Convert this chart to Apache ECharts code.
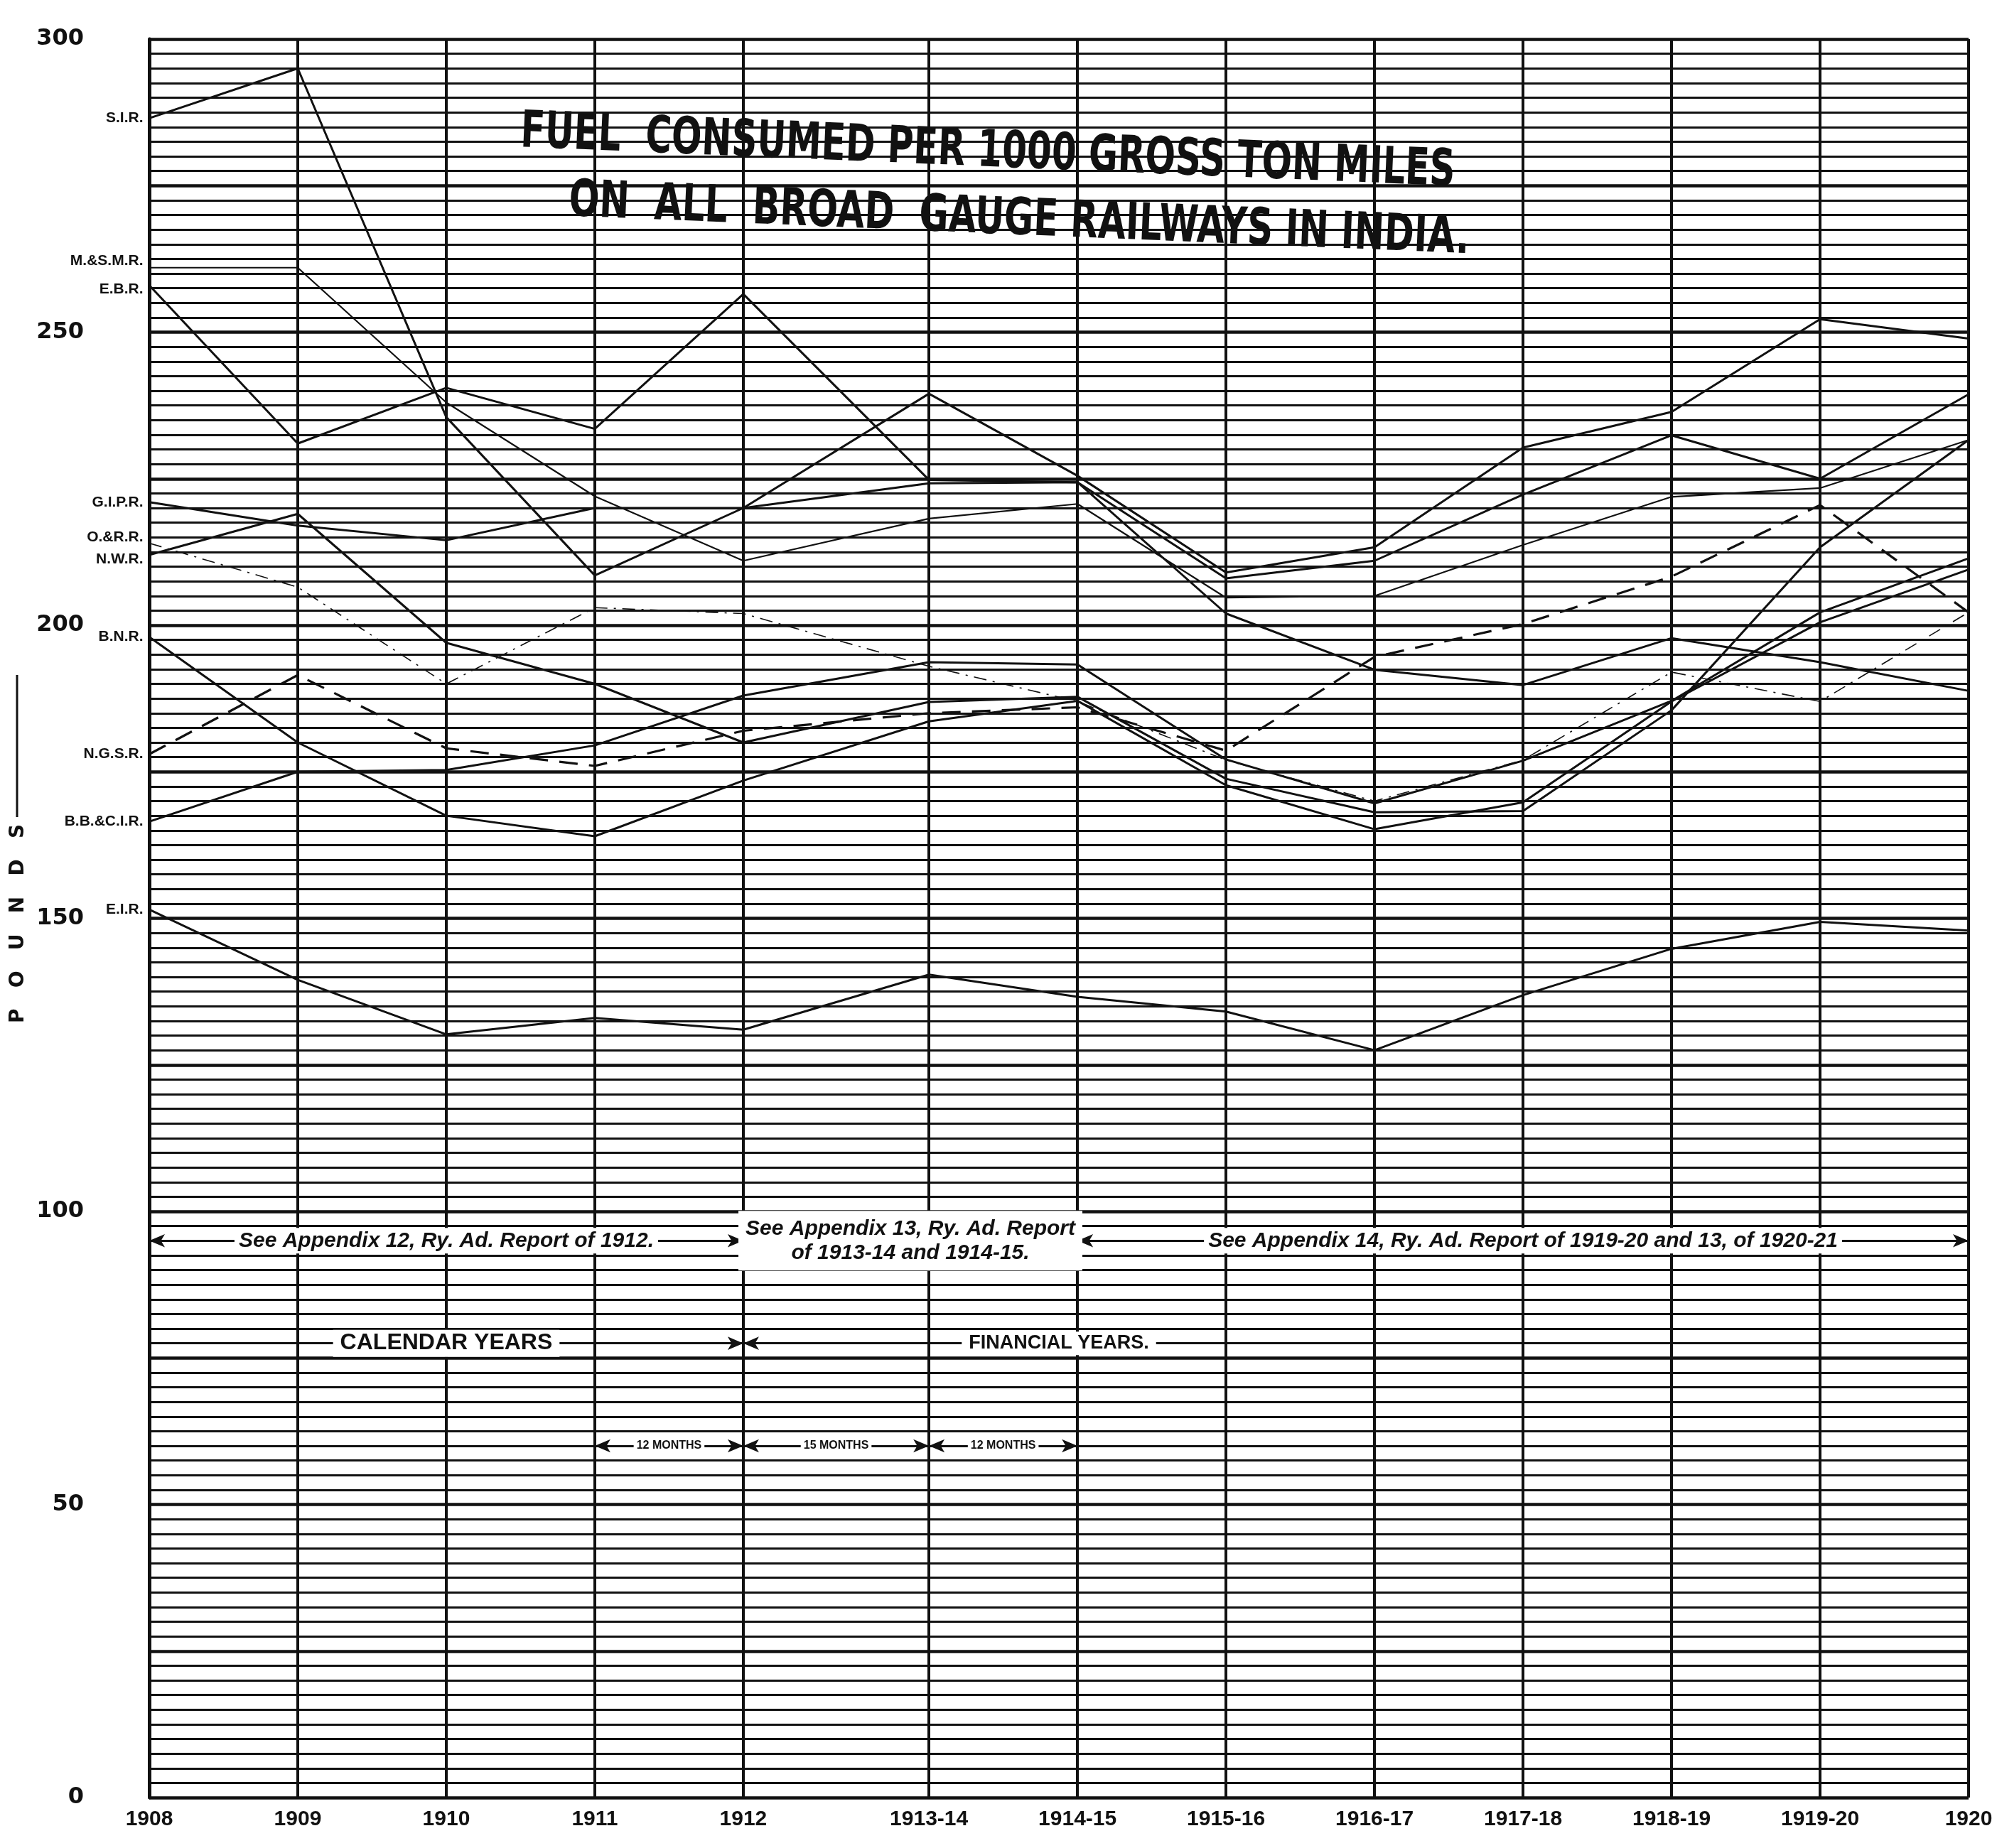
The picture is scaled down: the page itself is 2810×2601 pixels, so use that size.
<!DOCTYPE html>
<html><head><meta charset="utf-8">
<script src="https://cdn.jsdelivr.net/npm/echarts@6/dist/echarts.min.js"></script>
<style>html,body{margin:0;padding:0;background:#fff}#c{width:2810px;height:2601px}</style>
</head><body><div id="c"></div>
<script>
// ---- data ----
const periods = ['1908','1909','1910','1911','1912','1913-14','1914-15','1915-16','1916-17','1917-18','1918-19','1919-20','1920'];
// months elapsed since start of 1908 (1912 -> 1913-14 was a 15-month period)
const periodMonths = [0,12,24,36,48,63,75,87,99,111,123,135,147];
const yTickLabels = [0,50,100,150,200,250,300];

const sir   = [286.5,295,235.5,208.5,220,239.5,225.5,209,213.3,230.3,236.4,252.2,248.9];
const msmr  = [261,261,238,222,211,218.2,220.7,204.7,205,213.7,221.9,223.4,231.6];
const ebr   = [258,231,240.5,233.5,256.5,224.8,224.4,208,211,222.3,232.4,225,239.4];
const gipr  = [221,217,214.5,220,220,224.2,224.4,202,192.4,189.8,197.8,193.7,188.8];
const orr   = [214,206.5,190,203,202,193,187,177,170,177,192,187,202.2];
const nwr   = [212,219,197,190,180,186.9,187.8,173.8,168.1,168.3,185.5,213.3,231.6];
const bnr   = [198,180,167.5,164,173.5,183.6,187.1,172.7,165.2,169.8,187,200.5,209.5];
const ngsr  = [178,191.5,179,176,182,185,186,178.6,194.6,200.2,208.3,220.5,202.2];
const bbci  = [166.5,175,175.3,179.5,188,193.7,193.3,177.1,169.6,176.9,187.1,202.2,211.4];
const eir   = [151.5,139.5,130.2,133,131,140.4,136.6,134.1,127.5,136.9,144.8,149.4,147.9];

const seriesNames = ['S.I.R.','M.&S.M.R.','E.B.R.','G.I.P.R.','O.&R.R.','N.W.R.','B.N.R.','N.G.S.R.','B.B.&C.I.R.','E.I.R.'];
const seriesValues = [sir,msmr,ebr,gipr,orr,nwr,bnr,ngsr,bbci,eir];

// ---- styles ----
const INK = '#111';
const styleFor = {
  'M.&S.M.R.': {width:2.2,type:'solid'},
  'O.&R.R.': {width:1.6,type:[18,9,3,9]},
  'N.G.S.R.': {width:3.2,type:[26,16]},
};
const labelOffset = {'M.&S.M.R.':[0,-10],'E.B.R.':[0,6],'O.&R.R.':[0,-8],'N.W.R.':[0,6]};
const FONT = '"Liberation Sans","DejaVu Sans",sans-serif';

const chart = echarts.init(document.getElementById('c'), null, {renderer:'canvas'});

const lineSeries = seriesNames.map((name,i)=>{
  const st = styleFor[name] || {width:3,type:'solid'};
  return {
    name, type:'line', symbol:'circle', symbolSize:1, showSymbol:true, z:5,
    itemStyle:{color:INK},
    lineStyle:{color:INK,width:st.width,type:st.type},
    label:{show:false},
    data: seriesValues[i].map((v,j)=> j===0 ? {
      value:[periodMonths[j],v],
      label:{show:true,position:'left',distance:8,formatter:name,color:INK,
             fontFamily:FONT,fontWeight:'bold',fontSize:21,offset:labelOffset[name]||[0,0]}
    } : {value:[periodMonths[j],v]}),
    emphasis:{disabled:true}
  };
});

// vertical period lines + x labels
const verticals = {
  type:'line', data:[], silent:true,
  markLine:{
    silent:true, symbol:['none','none'], animation:false,
    lineStyle:{color:INK,width:4,type:'solid'},
    label:{show:true,position:'start',distance:16,color:INK,fontFamily:FONT,fontWeight:'bold',fontSize:30},
    data: periodMonths.map((m,i)=>({xAxis:m,label:{formatter:periods[i]}}))
  }
};

const annText = {color:INK,fontFamily:FONT,fontStyle:'italic',fontWeight:'bold',fontSize:30,backgroundColor:'#fff',padding:[3,6]};
const capText = {color:INK,fontFamily:FONT,fontWeight:'bold',fontSize:32,backgroundColor:'#fff',padding:[3,10]};
const smallText = {color:INK,fontFamily:FONT,fontWeight:'bold',fontSize:16,backgroundColor:'#fff',padding:[1,4]};

function seg(x1,x2,y,text,style,sym){
  return [{coord:[x1,y],symbol:sym[0],
           label:Object.assign({show:true,position:'middle',distance:0,verticalAlign:'middle',formatter:text},style)},
          {coord:[x2,y],symbol:sym[1]}];
}
const annotations = {
  type:'line', data:[], silent:true, z:8,
  markLine:{
    silent:true, animation:false, symbolSize:[14,22],
    lineStyle:{color:INK,width:3,type:'solid'},
    data:[
      seg(0,48,95,'See Appendix 12, Ry. Ad. Report of 1912.',annText,['arrow','arrow']),
      seg(48,75,95,'See Appendix 13, Ry. Ad. Report\nof 1913-14 and 1914-15.',Object.assign({},annText,{lineHeight:34,padding:[8,10]}),['arrow','arrow']),
      seg(75,147,95,'See Appendix 14, Ry. Ad. Report of 1919-20 and 13, of 1920-21',annText,['arrow','arrow']),
      seg(0,48,77.5,'CALENDAR YEARS',capText,['none','arrow']),
      seg(48,99,77.5,'FINANCIAL YEARS.',Object.assign({},capText,{fontSize:27}),['arrow','none']),
      seg(36,48,60,'12 MONTHS',smallText,['arrow','arrow']),
      seg(48,63,60,'15 MONTHS',smallText,['arrow','arrow']),
      seg(63,75,60,'12 MONTHS',smallText,['arrow','arrow'])
    ]
  }
};

const titleFont = 'bold 72px "DejaVu Sans",sans-serif';
chart.setOption({
  backgroundColor:'#fff',
  animation:false,
  grid:{left:210,right:40,top:55,bottom:71,show:false},
  xAxis:{type:'value',min:0,max:147,
    axisLine:{show:false},axisTick:{show:false},axisLabel:{show:false},splitLine:{show:false}},
  yAxis:{type:'value',min:0,max:300,interval:25,
    axisLine:{show:true,lineStyle:{color:INK,width:5}},axisTick:{show:false},
    axisLabel:{color:INK,fontFamily:'"DejaVu Sans",sans-serif',fontWeight:'bold',fontSize:32,margin:92,
      formatter:v=> yTickLabels.indexOf(v)>=0 ? String(v) : ''},
    splitLine:{show:true,lineStyle:{color:INK,width:4.5}},
    minorTick:{show:false,splitNumber:10},
    minorSplitLine:{show:true,lineStyle:{color:INK,width:3}}
  },
  graphic:[
    {type:'group', x:1410, y:262, rotation:-0.042, z:100,
     children:[
      {type:'rect',shape:{x:-755,y:-112,width:1510,height:222},style:{fill:'#fff'}},
      {type:'text',x:-22,y:-46,scaleX:0.695,style:{x:0,y:0,text:'FUEL  CONSUMED PER 1000 GROSS TON MILES',align:'center',verticalAlign:'middle',
        fill:INK,font:titleFont}},
      {type:'text',x:26,y:48,scaleX:0.70,style:{x:0,y:0,text:'ON  ALL  BROAD  GAUGE RAILWAYS IN INDIA.',align:'center',verticalAlign:'middle',
        fill:INK,font:titleFont}}
     ]},
    {type:'text', x:26, y:1300, rotation:Math.PI/2, z:100,
     style:{text:'P   O   U   N   D   S',align:'center',verticalAlign:'middle',fill:INK,font:'bold 28px "DejaVu Sans",sans-serif'}},
    {type:'line', z:100, shape:{x1:24,y1:1150,x2:24,y2:950}, style:{stroke:INK,lineWidth:3}}
  ],
  series:[verticals,annotations].concat(lineSeries)
});
</script></body></html>
